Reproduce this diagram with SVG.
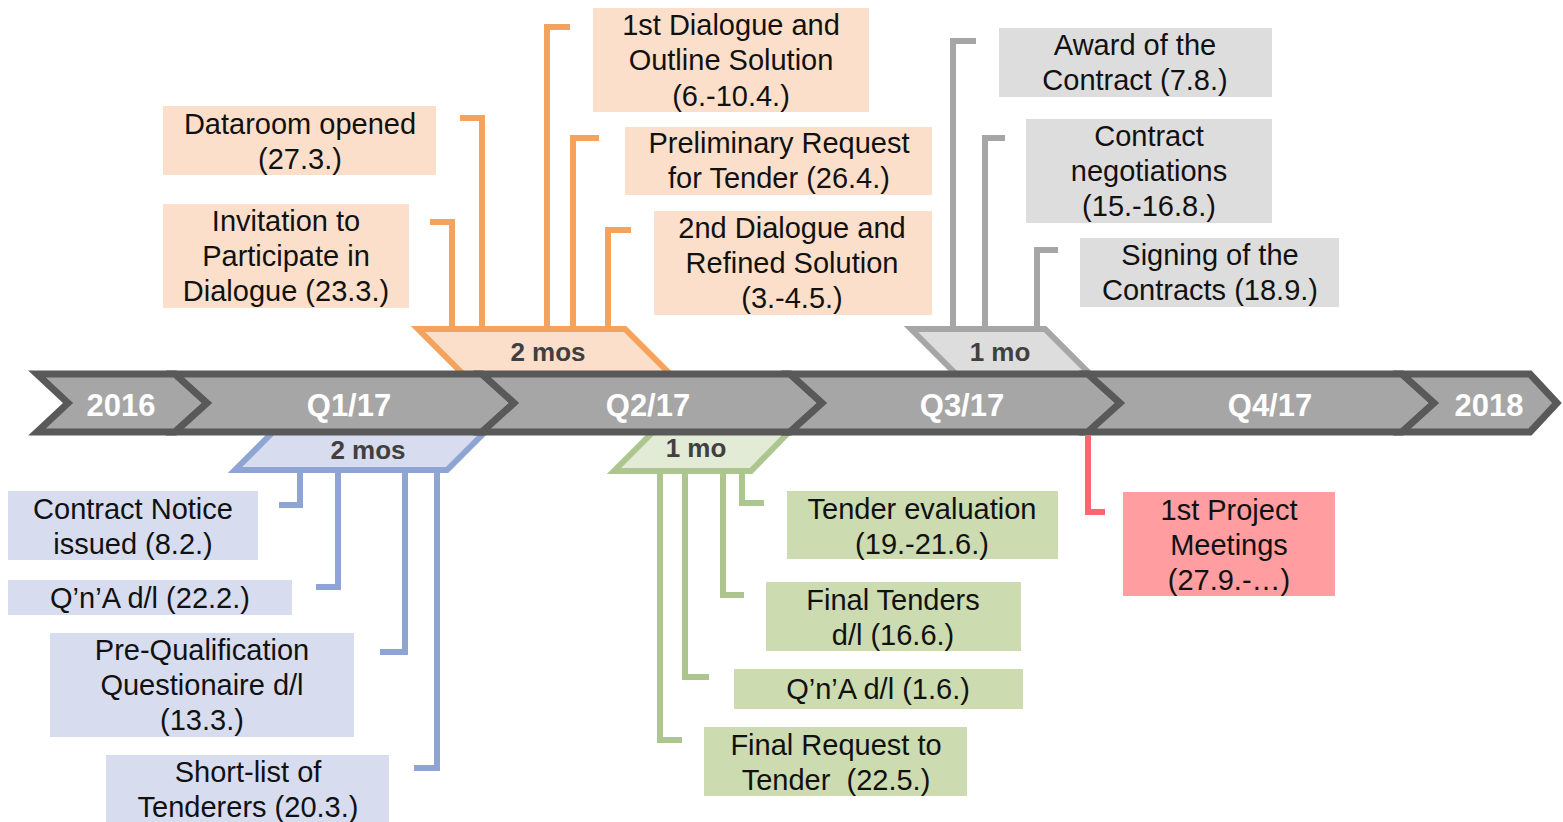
<svg xmlns="http://www.w3.org/2000/svg" width="1563" height="822" viewBox="0 0 1563 822">
<style>
.seg{fill:#A6A6A6;stroke:#595959;stroke-width:7;stroke-linejoin:miter}
.yr{font-family:"Liberation Sans",Arial,sans-serif;font-weight:bold;font-size:31px;fill:#fff;text-anchor:middle}
.dur{font-family:"Liberation Sans",Arial,sans-serif;font-weight:bold;font-size:26px;fill:#404040;text-anchor:middle}
.lbl{font-family:"Liberation Sans",Arial,sans-serif;font-size:29px;fill:#111;text-anchor:middle}
.c{fill:none;stroke-width:6;stroke-linejoin:miter}
.or{stroke:#F5A25D}.gr{stroke:#A6A6A6}.bl{stroke:#8EA4D2}.gn{stroke:#ADC690}.rd{stroke:#FF6670}
.bor{fill:#FBDFCB}.bgr{fill:#DDDDDD}.bbl{fill:#D7DCEF}.bgn{fill:#CCDBB0}.brd{fill:#FF9DA1}
</style>
<g id="spans">
<polygon points="418,329 625,329 670,374 463,374" fill="#FBDFCB" stroke="#F5A25D" stroke-width="6"/>
<polygon points="911,329 1045,329 1090,374 956,374" fill="#DDDDDD" stroke="#A6A6A6" stroke-width="6"/>
<polygon points="273,432 485,432 447,470 235,470" fill="#D7DCEF" stroke="#8EA4D2" stroke-width="6"/>
<polygon points="653,432 789,432 751,471 614,471" fill="#E2EBD5" stroke="#ADC690" stroke-width="6"/>
</g>
<g id="timeline">
<polygon class="seg" points="37,374 175,374 207,403 175,432 37,432 68,403"/>
<polygon class="seg" points="175,374 482,374 514,403 482,432 175,432 207,403"/>
<polygon class="seg" points="482,374 790,374 822,403 790,432 482,432 514,403"/>
<polygon class="seg" points="790,374 1088,374 1120,403 1088,432 790,432 822,403"/>
<polygon class="seg" points="1088,374 1402,374 1434,403 1402,432 1088,432 1120,403"/>
<polygon class="seg" points="1402,374 1530,374 1557,403 1530,432 1402,432 1434,403"/>
<text class="yr" x="121" y="416">2016</text>
<text class="yr" x="349" y="416">Q1/17</text>
<text class="yr" x="648" y="416">Q2/17</text>
<text class="yr" x="962" y="416">Q3/17</text>
<text class="yr" x="1270" y="416">Q4/17</text>
<text class="yr" x="1489" y="416">2018</text>
</g>
<g id="span-labels">
<text class="dur" x="548" y="361">2 mos</text>
<text class="dur" x="1000" y="361">1 mo</text>
<text class="dur" x="368" y="459">2 mos</text>
<text class="dur" x="696" y="457">1 mo</text>
</g>
<g id="connectors">
<polyline class="c or" points="452,327 452,222 430,222"/>
<polyline class="c or" points="482,327 482,118 460,118"/>
<polyline class="c or" points="547,327 547,27 570,27"/>
<polyline class="c or" points="573,327 573,138 599,138"/>
<polyline class="c or" points="608,327 608,230 631,230"/>
<polyline class="c gr" points="953,327 953,41 976,41"/>
<polyline class="c gr" points="985,327 985,138 1005,138"/>
<polyline class="c gr" points="1037,327 1037,250 1058,250"/>
<polyline class="c bl" points="300,472 300,505 279,505"/>
<polyline class="c bl" points="338,472 338,587 316,587"/>
<polyline class="c bl" points="405,472 405,652 380,652"/>
<polyline class="c bl" points="437,472 437,768 414,768"/>
<polyline class="c gn" points="660,473 660,740 682,740"/>
<polyline class="c gn" points="685,473 685,677 709,677"/>
<polyline class="c gn" points="723,473 723,595 744,595"/>
<polyline class="c gn" points="742,473 742,503 764,503"/>
<polyline class="c rd" points="1088,435 1088,512 1105,512"/>
</g>
<g id="n-dataroom"><rect class="bor" x="163" y="106" width="273" height="69"/>
<text class="lbl" x="300" y="134">Dataroom opened</text><text class="lbl" x="300" y="169">(27.3.)</text></g>
<g id="n-invitation"><rect class="bor" x="163" y="204" width="246" height="104"/>
<text class="lbl" x="286" y="231">Invitation to</text><text class="lbl" x="286" y="266">Participate in</text><text class="lbl" x="286" y="301">Dialogue (23.3.)</text></g>
<g id="n-dialogue1"><rect class="bor" x="593" y="8" width="276" height="104"/>
<text class="lbl" x="731" y="35">1st Dialogue and</text><text class="lbl" x="731" y="70">Outline Solution</text><text class="lbl" x="731" y="106">(6.-10.4.)</text></g>
<g id="n-prelim"><rect class="bor" x="625" y="127" width="307" height="68"/>
<text class="lbl" x="779" y="153">Preliminary Request</text><text class="lbl" x="779" y="188">for Tender (26.4.)</text></g>
<g id="n-dialogue2"><rect class="bor" x="654" y="211" width="278" height="104"/>
<text class="lbl" x="792" y="238">2nd Dialogue and</text><text class="lbl" x="792" y="273">Refined Solution</text><text class="lbl" x="792" y="308">(3.-4.5.)</text></g>
<g id="n-award"><rect class="bgr" x="999" y="28" width="273" height="69"/>
<text class="lbl" x="1135" y="55">Award of the</text><text class="lbl" x="1135" y="90">Contract (7.8.)</text></g>
<g id="n-negotiations"><rect class="bgr" x="1026" y="119" width="246" height="104"/>
<text class="lbl" x="1149" y="146">Contract</text><text class="lbl" x="1149" y="181">negotiations</text><text class="lbl" x="1149" y="216">(15.-16.8.)</text></g>
<g id="n-signing"><rect class="bgr" x="1080" y="238" width="259" height="69"/>
<text class="lbl" x="1210" y="265">Signing of the</text><text class="lbl" x="1210" y="300">Contracts (18.9.)</text></g>
<g id="n-notice"><rect class="bbl" x="8" y="491" width="250" height="69"/>
<text class="lbl" x="133" y="519">Contract Notice</text><text class="lbl" x="133" y="554">issued (8.2.)</text></g>
<g id="n-qna1"><rect class="bbl" x="8" y="580" width="284" height="35"/>
<text class="lbl" x="150" y="608">Q’n’A d/l (22.2.)</text></g>
<g id="n-prequal"><rect class="bbl" x="50" y="633" width="304" height="104"/>
<text class="lbl" x="202" y="660">Pre-Qualification</text><text class="lbl" x="202" y="695">Questionaire d/l</text><text class="lbl" x="202" y="730">(13.3.)</text></g>
<g id="n-shortlist"><rect class="bbl" x="106" y="755" width="283" height="70"/>
<text class="lbl" x="248" y="782">Short-list of</text><text class="lbl" x="248" y="817">Tenderers (20.3.)</text></g>
<g id="n-evaluation"><rect class="bgn" x="787" y="491" width="271" height="68"/>
<text class="lbl" x="922" y="519">Tender evaluation</text><text class="lbl" x="922" y="554">(19.-21.6.)</text></g>
<g id="n-finaltenders"><rect class="bgn" x="766" y="582" width="255" height="69"/>
<text class="lbl" x="893" y="610">Final Tenders</text><text class="lbl" x="893" y="645">d/l (16.6.)</text></g>
<g id="n-qna2"><rect class="bgn" x="734" y="669" width="289" height="40"/>
<text class="lbl" x="878" y="699">Q’n’A d/l (1.6.)</text></g>
<g id="n-finalrequest"><rect class="bgn" x="704" y="727" width="263" height="69"/>
<text class="lbl" x="836" y="755">Final Request to</text><text class="lbl" x="836" y="790" xml:space="preserve">Tender  (22.5.)</text></g>
<g id="n-project"><rect class="brd" x="1123" y="492" width="212" height="104"/>
<text class="lbl" x="1229" y="520">1st Project</text><text class="lbl" x="1229" y="555">Meetings</text><text class="lbl" x="1229" y="590">(27.9.-…)</text></g>
</svg>
